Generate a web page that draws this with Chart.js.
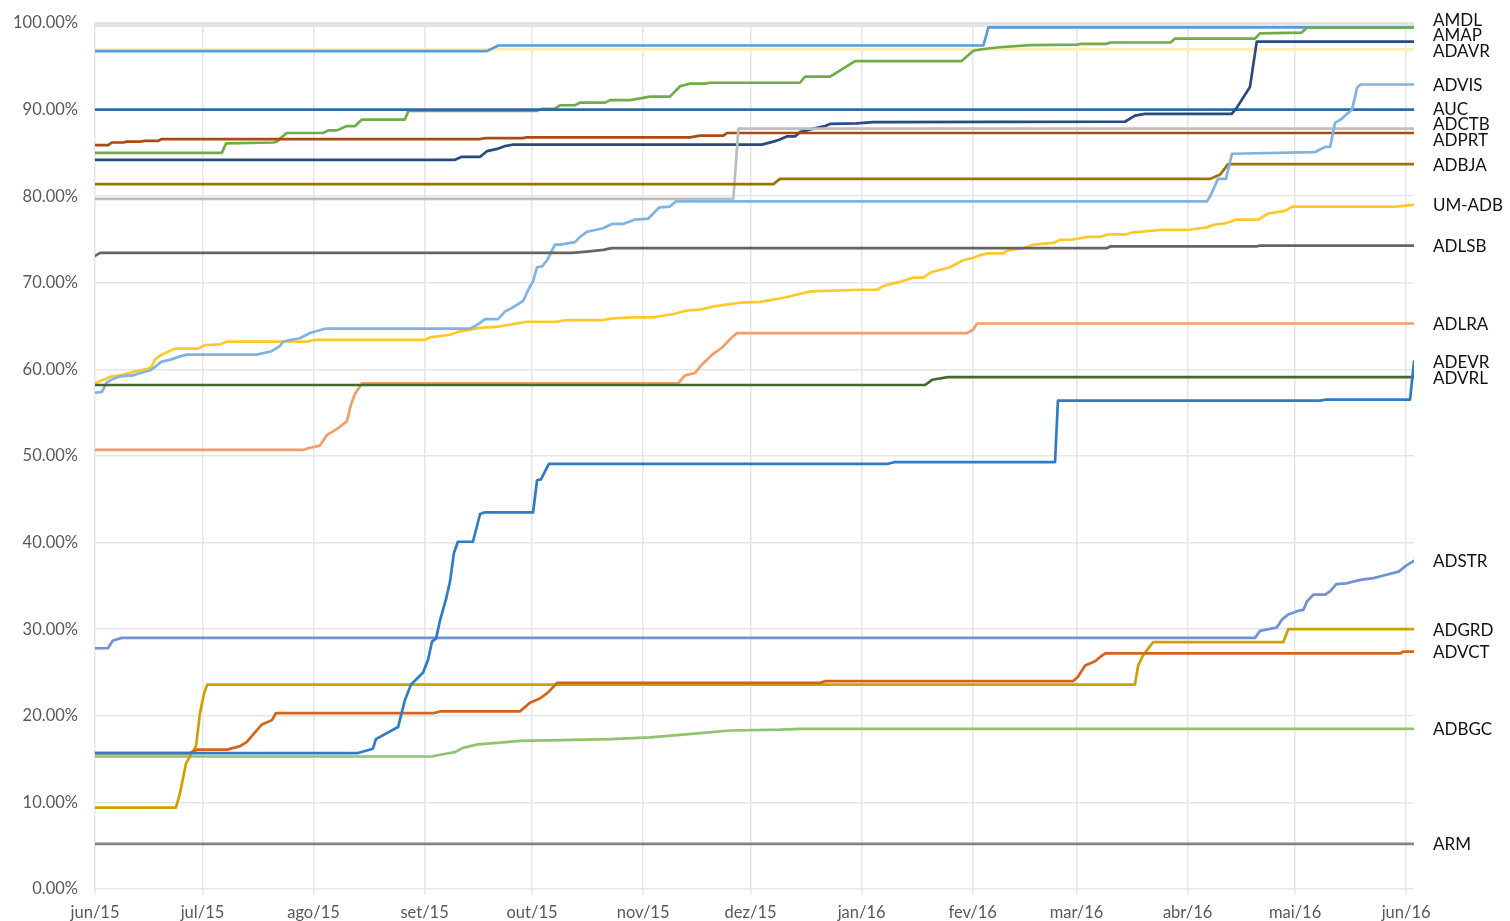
<!DOCTYPE html>
<html lang="pt">
<head>
    <meta charset="UTF-8">
    <title>Evolução por unidade</title>
    <script src="https://cdn.jsdelivr.net/npm/chart.js"></script>
    <style>
        body {
            margin: 0;
            background: #ffffff;
        }
        .chart-box {
            width: 1510px;
            height: 921px;
            position: relative;
        }
    </style>
</head>
<body>
    <div class="chart-box">
        <canvas id="evolucao"></canvas>
    </div>

    <script>
        // x = days since 1 jun 2015, y = percent
        const monthDays = [0, 30, 61, 92, 122, 153, 183, 214, 245, 274, 305, 335, 366];
        const monthLabels = ['jun/15', 'jul/15', 'ago/15', 'set/15', 'out/15', 'nov/15', 'dez/15',
                             'jan/16', 'fev/16', 'mar/16', 'abr/16', 'mai/16', 'jun/16'];

        const ADEVR = [[0, 15.7], [73.4, 15.7], [77.6, 16.2], [78.4, 17.3], [84.6, 18.7], [86.5, 21.8],
            [88.2, 23.6], [91.6, 25.0], [93.0, 26.5], [94.1, 28.6], [95.2, 28.9], [96.3, 31.0], [98.0, 33.5],
            [99.1, 35.5], [100.2, 38.8], [101.3, 40.1], [105.5, 40.1], [107.5, 43.3], [108.9, 43.5],
            [122.3, 43.5], [123.4, 47.2], [124.5, 47.3], [126.7, 49.1], [221.4, 49.1], [223.3, 49.3],
            [268.0, 49.3], [268.8, 56.4], [342.0, 56.4], [343.4, 56.5], [367.1, 56.5], [368.2, 60.9]];
        const ADVRL = [[0, 58.2], [231.7, 58.2], [233.7, 58.8], [238.1, 59.1], [368.2, 59.1]];
        const ADVCT = [[0, 15.7], [26.5, 15.7], [28.5, 16.1], [36.9, 16.1], [40.5, 16.5], [42.4, 17.0],
            [46.6, 19.0], [49.4, 19.5], [50.5, 20.3], [94.4, 20.3], [96.3, 20.5], [118.6, 20.5], [120.0, 21.0],
            [121.4, 21.5], [124.2, 22.0], [126.5, 22.7], [129.0, 23.8], [202.4, 23.8], [203.8, 24.0],
            [273.0, 24.0], [274.4, 24.5], [276.4, 25.8], [279.2, 26.3], [280.6, 26.8], [282.0, 27.2],
            [364.3, 27.2], [365.2, 27.4], [368.2, 27.4]];
        const ADGRD = [[0, 9.4], [22.6, 9.4], [23.7, 11.0], [25.4, 14.5], [28.2, 16.5], [29.3, 20.3],
            [30.4, 22.5], [31.3, 23.6], [290.3, 23.6], [291.2, 25.8], [292.6, 27.0], [295.4, 28.5],
            [331.7, 28.5], [333.1, 30.0], [368.2, 30.0]];
        const ADBGC = [[0, 15.3], [94.1, 15.3], [96.3, 15.5], [100.5, 15.8], [102.7, 16.3], [106.9, 16.7],
            [113.1, 16.9], [118.6, 17.1], [129.8, 17.2], [143.8, 17.3], [154.9, 17.5], [163.3, 17.8],
            [168.9, 18.0], [177.3, 18.3], [191.2, 18.4], [196.8, 18.5], [368.2, 18.5]];
        const ADSTR = [[0, 27.8], [3.6, 27.8], [5.0, 28.7], [7.5, 29.0], [323.8, 29.0], [325.2, 29.8],
            [329.9, 30.2], [331.3, 31.1], [333.1, 31.7], [336.4, 32.2], [337.3, 32.2], [338.3, 33.2],
            [340.1, 34.0], [343.4, 34.0], [344.8, 34.4], [346.5, 35.2], [349.4, 35.3], [353.2, 35.7],
            [356.9, 35.9], [359.7, 36.2], [363.9, 36.65], [366.2, 37.4], [368.2, 37.9]];
        const ARM = [[0, 5.2], [368.2, 5.2]];
        const ADLRA = [[0, 50.7], [58.1, 50.7], [59.5, 50.9], [62.8, 51.2], [64.7, 52.4], [67.5, 53.1],
            [70.3, 54.0], [71.5, 56.0], [72.6, 57.2], [74.5, 58.4], [162.8, 58.4], [164.7, 59.3],
            [167.5, 59.6], [169.5, 60.6], [172.3, 61.7], [175.0, 62.5], [177.3, 63.5], [179.2, 64.2],
            [243.4, 64.2], [245.2, 64.6], [246.2, 65.3], [368.2, 65.3]];
        const ADLSB = [[0, 73.1], [1.4, 73.45], [133.1, 73.45], [137.3, 73.6], [141.9, 73.8], [144.2, 74.0],
            [282.4, 74.0], [283.4, 74.2], [324.3, 74.2], [325.2, 74.3], [368.2, 74.3]];
        const ADVIS = [[0, 57.3], [1.9, 57.4], [3.3, 58.5], [5.0, 58.9], [7.0, 59.2], [10.6, 59.3],
            [12.0, 59.5], [15.4, 59.9], [16.8, 60.3], [18.6, 60.9], [20.9, 61.1], [23.7, 61.5], [25.6, 61.7],
            [45.1, 61.7], [49.3, 62.1], [51.6, 62.7], [52.5, 63.2], [54.4, 63.4], [57.2, 63.6], [60.0, 64.2],
            [64.2, 64.7], [104.7, 64.7], [106.9, 65.2], [108.9, 65.8], [112.5, 65.8], [114.5, 66.7],
            [116.4, 67.1], [119.5, 67.9], [121.2, 69.4], [122.3, 70.2], [123.4, 71.8], [124.8, 71.9],
            [126.2, 72.6], [128.4, 74.4], [129.8, 74.4], [134.0, 74.7], [135.4, 75.3], [137.4, 75.9],
            [141.8, 76.3], [144.3, 76.8], [147.4, 76.8], [150.8, 77.3], [154.4, 77.4], [157.5, 78.7],
            [160.5, 78.8], [162.2, 79.4], [310.4, 79.4], [311.3, 80.0], [313.5, 82.0], [315.7, 82.0],
            [317.4, 84.9], [340.6, 85.1], [343.4, 85.7], [344.8, 85.7], [346.2, 88.5], [347.6, 88.8],
            [350.9, 90.0], [352.3, 92.5], [353.2, 92.9], [368.2, 92.9]];
        const UMADB = [[0, 58.4], [2.3, 58.8], [4.7, 59.2], [7.0, 59.3], [8.8, 59.5], [11.6, 59.8],
            [14.9, 60.1], [15.8, 60.3], [16.8, 61.2], [18.6, 61.7], [22.3, 62.4], [28.8, 62.4], [30.7, 62.8],
            [34.9, 62.9], [36.8, 63.2], [59.1, 63.2], [61.4, 63.4], [92.1, 63.4], [93.5, 63.7], [99.1, 64.0],
            [101.9, 64.4], [107.5, 64.8], [112.1, 64.9], [116.3, 65.2], [120.5, 65.5], [128.9, 65.5],
            [131.7, 65.7], [141.8, 65.7], [144.6, 65.9], [150.2, 66.0], [155.8, 66.0], [161.4, 66.4],
            [165.3, 66.8], [168.9, 66.9], [173.1, 67.3], [180.1, 67.7], [185.7, 67.8], [192.6, 68.3],
            [199.6, 69.0], [213.6, 69.2], [218.2, 69.2], [220.5, 69.7], [224.7, 70.1], [228.4, 70.6],
            [231.2, 70.6], [233.6, 71.25], [238.7, 71.8], [242.4, 72.6], [245.2, 72.9], [247.1, 73.2],
            [249.4, 73.4], [253.6, 73.4], [254.5, 73.7], [259.2, 74.0], [261.9, 74.4], [267.5, 74.6],
            [269.4, 74.95], [273.1, 75.0], [276.9, 75.3], [280.6, 75.3], [282.9, 75.6], [288.0, 75.6],
            [289.4, 75.8], [293.6, 75.95], [297.3, 76.1], [304.8, 76.1], [310.4, 76.4], [312.2, 76.7],
            [315.9, 76.9], [318.7, 77.3], [324.7, 77.3], [327.5, 78.0], [332.2, 78.3], [334.2, 78.8],
            [363.0, 78.8], [368.2, 79.0]];
        const ADBJA = [[0, 81.4], [189.4, 81.4], [191.2, 82.0], [311.3, 82.0], [314.1, 82.5], [316.3, 83.7],
            [368.2, 83.7]];
        const ADCTB = [[0, 79.7], [178.2, 79.7], [179.6, 87.8], [368.2, 87.8]];
        const ADPRT = [[0, 85.9], [3.7, 85.9], [4.7, 86.2], [7.9, 86.2], [8.8, 86.3], [12.6, 86.3],
            [14.0, 86.4], [17.7, 86.4], [18.6, 86.6], [107.5, 86.6], [108.9, 86.7], [119.6, 86.7],
            [120.5, 86.8], [166.1, 86.8], [168.9, 87.0], [175.4, 87.0], [176.4, 87.3], [368.2, 87.3]];
        const NAVY = [[0, 84.2], [100.5, 84.2], [102.4, 84.55], [107.5, 84.55], [109.4, 85.2], [112.6, 85.5],
            [114.5, 85.8], [116.8, 85.95], [186.1, 85.95], [189.4, 86.3], [191.2, 86.55], [193.1, 86.9],
            [195.4, 86.9], [196.8, 87.4], [200.5, 87.8], [203.8, 88.1], [205.2, 88.35], [212.6, 88.4],
            [217.3, 88.55], [287.5, 88.6], [290.3, 89.3], [293.1, 89.5], [317.3, 89.5], [318.7, 90.2],
            [322.4, 92.6], [324.3, 97.85], [368.2, 97.85]];
        const AUC = [[0, 90.0], [368.2, 90.0]];
        const AMAP = [[0, 85.0], [35.4, 85.0], [36.6, 86.1], [49.8, 86.2], [50.7, 86.3], [53.5, 87.3],
            [63.7, 87.3], [65.1, 87.6], [67.5, 87.6], [70.3, 88.1], [72.6, 88.1], [74.5, 88.85], [86.5, 88.85],
            [87.5, 89.85], [123.3, 89.85], [124.7, 90.1], [128.4, 90.1], [129.8, 90.5], [134.0, 90.5],
            [135.4, 90.8], [142.4, 90.8], [143.8, 91.1], [149.4, 91.1], [154.9, 91.5], [160.5, 91.5],
            [163.3, 92.7], [166.1, 93.0], [170.3, 93.0], [171.7, 93.1], [196.8, 93.1], [198.2, 93.8],
            [205.2, 93.8], [212.2, 95.6], [241.9, 95.6], [245.2, 96.8], [248.0, 97.0], [252.6, 97.2],
            [261.0, 97.45], [274.1, 97.5], [275.5, 97.6], [282.4, 97.6], [283.4, 97.75], [300.2, 97.75],
            [301.5, 98.2], [323.8, 98.2], [325.2, 98.8], [336.8, 98.9], [338.3, 99.45], [368.2, 99.45]];
        const AMDL = [[0, 96.75], [109.4, 96.75], [112.6, 97.4], [248.0, 97.4], [249.4, 99.5], [368.2, 99.5]];
        const ADAVR = [[0, 96.95], [368.2, 96.95]];
        const PALEBLUE = [[0, 99.7], [368.2, 99.7]];
        const PALEPINK = [[0, 100.0], [368.2, 100.0]];

        // first entry is drawn on top; '' = no end label
        const seriesNames = ['ADEVR', 'ADVRL', 'ADVCT', 'ADGRD', 'ADBGC', 'ADSTR', 'ARM', 'ADLRA', 'ADLSB',
            'ADVIS', 'UM-ADB', 'ADBJA', 'ADCTB', 'ADPRT', '', 'AUC', 'AMAP', 'AMDL', 'ADAVR', '', ''];
        const seriesData = [ADEVR, ADVRL, ADVCT, ADGRD, ADBGC, ADSTR, ARM, ADLRA, ADLSB,
            ADVIS, UMADB, ADBJA, ADCTB, ADPRT, NAVY, AUC, AMAP, AMDL, ADAVR, PALEBLUE, PALEPINK];
        const seriesColors = ['#2e7cc6', '#43682b', '#d5641a', '#cfa000', '#8fc46e', '#7091d6', '#858585',
            '#f29e66', '#646464', '#7fb3e4', '#ffc92c', '#9a7400', '#bdbdbd', '#a94b12', '#284a80',
            '#30689d', '#70ad47', '#5b9bd5', '#ffedb8', '#dae3f3', '#f3dcd2'];

        // spread the end labels so they do not overlap
        function spreadLabels(targets, gap) {
            const order = targets.map((t, i) => ({ t, i })).sort((a, b) => a.t - b.t);
            const groups = [];
            const start = g => g.sum / g.items.length - (g.items.length - 1) * gap / 2;
            order.forEach(o => {
                groups.push({ items: [o], sum: o.t });
                while (groups.length > 1) {
                    const g = groups[groups.length - 1];
                    const p = groups[groups.length - 2];
                    const pEnd = start(p) + (p.items.length - 1) * gap;
                    if (start(g) - pEnd >= gap) break;
                    p.items = p.items.concat(g.items);
                    p.sum += g.sum;
                    groups.pop();
                }
            });
            const out = [];
            groups.forEach(g => {
                const s = start(g);
                g.items.forEach((it, k) => { out[it.i] = s + k * gap; });
            });
            return out;
        }

        const endLabels = {
            id: 'endLabels',
            afterDatasetsDraw(chart) {
                const ctx = chart.ctx;
                const yScale = chart.scales.y;
                const items = [];
                chart.data.datasets.forEach(ds => {
                    if (!ds.label) return;
                    const last = ds.data[ds.data.length - 1];
                    items.push({ text: ds.label, y: yScale.getPixelForValue(last.y) });
                });
                const ys = spreadLabels(items.map(it => it.y), 15.5);
                ctx.save();
                ctx.font = '17px Lato';
                ctx.fillStyle = '#111111';
                ctx.textAlign = 'left';
                ctx.textBaseline = 'middle';
                items.forEach((it, i) => {
                    ctx.fillText(it.text, chart.chartArea.right + 19, ys[i] + 1);
                });
                ctx.restore();
            }
        };

        const datasets = seriesData.map((pts, i) => ({
            label: seriesNames[i],
            data: pts.map(p => ({ x: p[0], y: p[1] })),
            borderColor: seriesColors[i],
            borderWidth: 2.7,
            pointRadius: 0,
            tension: 0,
            fill: false,
            borderJoinStyle: 'round',
            borderCapStyle: 'round'
        }));

        new Chart(document.getElementById('evolucao'), {
            type: 'line',
            data: { datasets },
            plugins: [endLabels],
            options: {
                responsive: true,
                maintainAspectRatio: false,
                animation: false,
                layout: { padding: { top: 23, right: 96, left: 0, bottom: 0 } },
                plugins: {
                    legend: { display: false },
                    tooltip: { enabled: false }
                },
                scales: {
                    x: {
                        type: 'linear',
                        min: 0,
                        max: 368.2,
                        afterBuildTicks: scale => {
                            scale.ticks = monthDays.map(v => ({ value: v }));
                        },
                        afterFit: scale => { scale.height = 32; },
                        ticks: {
                            autoSkip: false,
                            maxRotation: 0,
                            padding: 8,
                            color: '#595959',
                            font: { family: 'Lato', size: 16.5 },
                            callback: value => monthLabels[monthDays.indexOf(value)]
                        },
                        grid: { color: '#e6e6e6', lineWidth: 1.5, tickLength: 6 },
                        border: { display: false }
                    },
                    y: {
                        min: 0,
                        max: 100,
                        afterFit: scale => {
                            scale.width = 95;
                            scale.paddingTop = 0;
                            scale.paddingBottom = 0;
                        },
                        ticks: {
                            stepSize: 10,
                            padding: 17,
                            color: '#595959',
                            font: { family: 'Lato', size: 16.5 },
                            callback: value => value.toFixed(2) + '%'
                        },
                        grid: { color: '#e6e6e6', lineWidth: 1.5, drawTicks: false },
                        border: { display: false }
                    }
                }
            }
        });
    </script>
</body>
</html>
